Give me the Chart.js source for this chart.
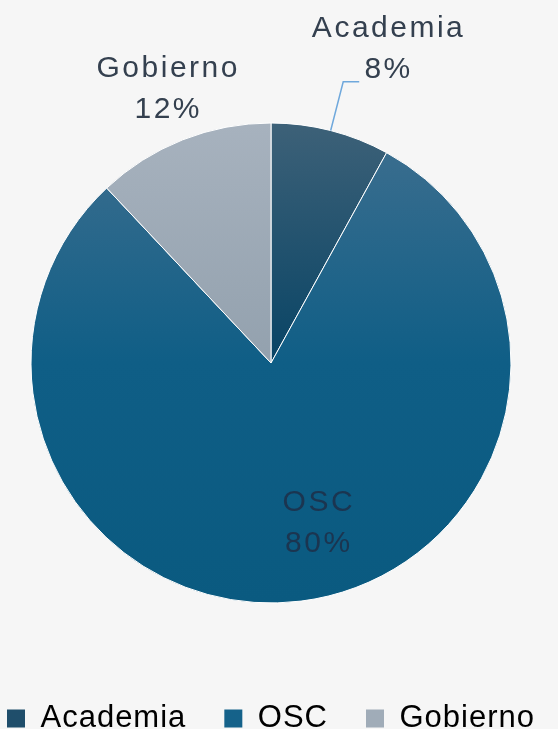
<!DOCTYPE html>
<html>
<head>
<meta charset="utf-8">
<script src="https://cdn.jsdelivr.net/npm/chart.js@4.4.1/dist/chart.umd.min.js"></script>
<style>
  html, body { margin: 0; padding: 0; background: #f6f6f6; overflow: hidden; }
  canvas { display: block; margin-left: -49px; }
</style>
</head>
<body>
<canvas id="pie" width="640" height="744"></canvas>
<script>
// datos del gráfico
const sectores = ["Academia", "OSC", "Gobierno"];
const porcentajes = [8, 80, 12];

// colores (degradado vertical: arriba, centro, abajo)
const coloresArriba = ["#3d6178", "#3f6f8f", "#a7b2be"];
const coloresCentro = ["#084465", "#0f5e86", "#93a1ae"];
const coloresAbajo = ["#084465", "#0a5a80", "#93a1ae"];
const coloresLeyenda = ["#1f4e6b", "#15628a", "#a0acb8"];

// colocación de etiquetas: factor del radio sobre el ángulo medio + ajuste
const etiquetas = [
  { radio: 1.35, dx: 37, dy: 0, color: "#34404f", guia: 1.21 },
  { radio: 0.66, dx: 28, dy: 3, color: "#1b3550" },
  { radio: 1.22, dx: 5, dy: -2, color: "#34404f" }
];

function degradado(context) {
  const i = context.dataIndex;
  const chart = context.chart;
  const area = chart.chartArea;
  if (!area) return coloresCentro[i];
  const cy = (area.top + area.bottom) / 2;
  const r = 240;
  const g = chart.ctx.createLinearGradient(0, cy - r, 0, cy + r);
  g.addColorStop(0, coloresArriba[i]);
  g.addColorStop(0.5, coloresCentro[i]);
  g.addColorStop(1, coloresAbajo[i]);
  return g;
}

const espaciado = {
  id: "espaciado",
  beforeLayout(chart) { chart.ctx.letterSpacing = "1px"; },
  beforeDraw(chart) { chart.ctx.letterSpacing = "1px"; }
};

const etiquetasPlugin = {
  id: "etiquetas",
  afterDatasetsDraw(chart) {
    const ctx = chart.ctx;
    const meta = chart.getDatasetMeta(0);
    meta.data.forEach((arc, i) => {
      const { x, y, startAngle, endAngle, outerRadius } =
        arc.getProps(["x", "y", "startAngle", "endAngle", "outerRadius"], true);
      const mid = (startAngle + endAngle) / 2;
      const cfg = etiquetas[i];
      const px = x + Math.cos(mid) * outerRadius * cfg.radio + cfg.dx;
      const py = y + Math.sin(mid) * outerRadius * cfg.radio + cfg.dy;
      ctx.save();
      if (cfg.guia) {
        const ex = x + Math.cos(mid) * outerRadius;
        const ey = y + Math.sin(mid) * outerRadius;
        const gx = x + Math.cos(mid) * outerRadius * cfg.guia;
        const gy = y + Math.sin(mid) * outerRadius * cfg.guia;
        ctx.strokeStyle = "#6fa8dc";
        ctx.lineWidth = 1.5;
        ctx.beginPath();
        ctx.moveTo(ex, ey);
        ctx.lineTo(gx, gy);
        ctx.lineTo(gx + 16, gy);
        ctx.stroke();
      }
      ctx.font = "30px 'Liberation Sans'";
      ctx.letterSpacing = "2.5px";
      ctx.fillStyle = cfg.color;
      ctx.textAlign = "center";
      ctx.textBaseline = "middle";
      ctx.fillText(sectores[i], px, py - 20.5);
      ctx.fillText(porcentajes[i] + "%", px, py + 20.5);
      ctx.restore();
    });
  }
};

new Chart(document.getElementById("pie"), {
  type: "pie",
  data: {
    labels: sectores,
    datasets: [{
      data: porcentajes,
      backgroundColor: degradado,
      borderColor: "#ffffff",
      borderWidth: 1,
      radius: 240
    }]
  },
  options: {
    responsive: false,
    animation: false,
    layout: { padding: { left: 0, right: 0, top: 61, bottom: 0 } },
    plugins: {
      tooltip: { enabled: false },
      legend: {
        position: "bottom",
        labels: {
          font: { family: "'Liberation Sans'", size: 31 },
          color: "#2f3a48",
          boxWidth: 18,
          boxHeight: 18,
          padding: 38,
          generateLabels: () => sectores.map((s, i) => ({
            text: s,
            fillStyle: coloresLeyenda[i],
            strokeStyle: coloresLeyenda[i],
            lineWidth: 0,
            index: i
          }))
        }
      }
    }
  },
  plugins: [espaciado, etiquetasPlugin]
});
</script>
</body>
</html>
